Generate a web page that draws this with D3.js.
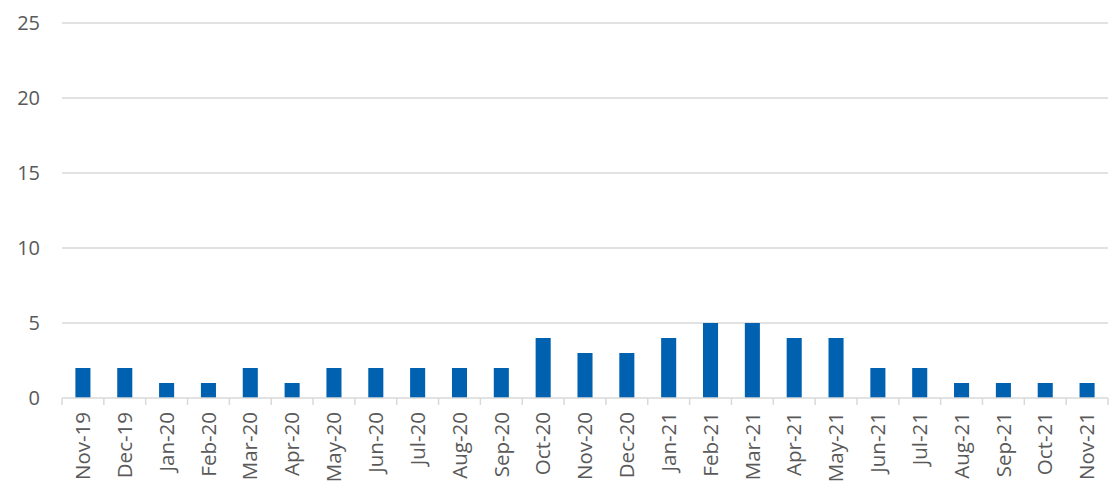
<!DOCTYPE html>
<html><head><meta charset="utf-8">
<script src="https://cdn.jsdelivr.net/npm/d3@7"></script>
<style>body{margin:0;background:#fff;}svg{display:block;}</style>
</head><body>
<script>
const categories = ["Nov-19","Dec-19","Jan-20","Feb-20","Mar-20","Apr-20","May-20","Jun-20","Jul-20","Aug-20","Sep-20","Oct-20","Nov-20","Dec-20","Jan-21","Feb-21","Mar-21","Apr-21","May-21","Jun-21","Jul-21","Aug-21","Sep-21","Oct-21","Nov-21"];
const values = [2,2,1,1,2,1,2,2,2,2,2,4,3,3,4,5,5,4,4,2,2,1,1,1,1];
const yTicks = [0,5,10,15,20,25];

const W = 1114, H = 487;
const m = {left: 62, right: 6, top: 23, bottom: 89};
const svg = d3.select("body").append("svg").attr("width", W).attr("height", H);
const x = d3.scaleBand().domain(categories).range([m.left, W - m.right]).paddingInner(0.64).paddingOuter(0.32);
const y = d3.scaleLinear().domain([0, 25]).range([H - m.bottom, m.top]);
const font = "'Open Sans', sans-serif";

// gridlines
svg.append("g").selectAll("line").data(yTicks.filter(d => d > 0)).join("line")
  .attr("x1", m.left).attr("x2", W - m.right)
  .attr("y1", d => y(d)).attr("y2", d => y(d))
  .attr("stroke", "#d9d9d9").attr("stroke-width", 1.5);

// y labels
svg.append("g").selectAll("text").data(yTicks).join("text")
  .attr("x", 40).attr("y", d => y(d)).attr("dy", "0.35em")
  .attr("text-anchor", "end").attr("font-family", font).attr("font-size", 20)
  .attr("fill", "#595959").text(d => d);

// bars
svg.append("g").selectAll("rect").data(values).join("rect")
  .attr("x", (d, i) => x(categories[i])).attr("width", x.bandwidth())
  .attr("y", d => y(d)).attr("height", d => y(0) - y(d))
  .attr("fill", "#0061b1");

// x axis
const step = x.step();
const xAxis = svg.append("g");
xAxis.append("line").attr("x1", m.left).attr("x2", W - m.right)
  .attr("y1", y(0)).attr("y2", y(0)).attr("stroke", "#d9d9d9").attr("stroke-width", 1.5);
const tickPos = d3.range(categories.length + 1).map(i => m.left + i * step);
xAxis.selectAll("line.tick").data(tickPos).join("line").attr("class", "tick")
  .attr("x1", d => d).attr("x2", d => d).attr("y1", y(0)).attr("y2", y(0) + 7)
  .attr("stroke", "#d9d9d9").attr("stroke-width", 1.5);
xAxis.selectAll("text").data(categories).join("text")
  .attr("transform", d => `translate(${x(d) + x.bandwidth()/2},${y(0) + 14}) rotate(-90)`)
  .attr("dy", "0.35em").attr("text-anchor", "end")
  .attr("font-family", font).attr("font-size", 20.5).attr("fill", "#595959").text(d => d);
</script>
</body></html>
